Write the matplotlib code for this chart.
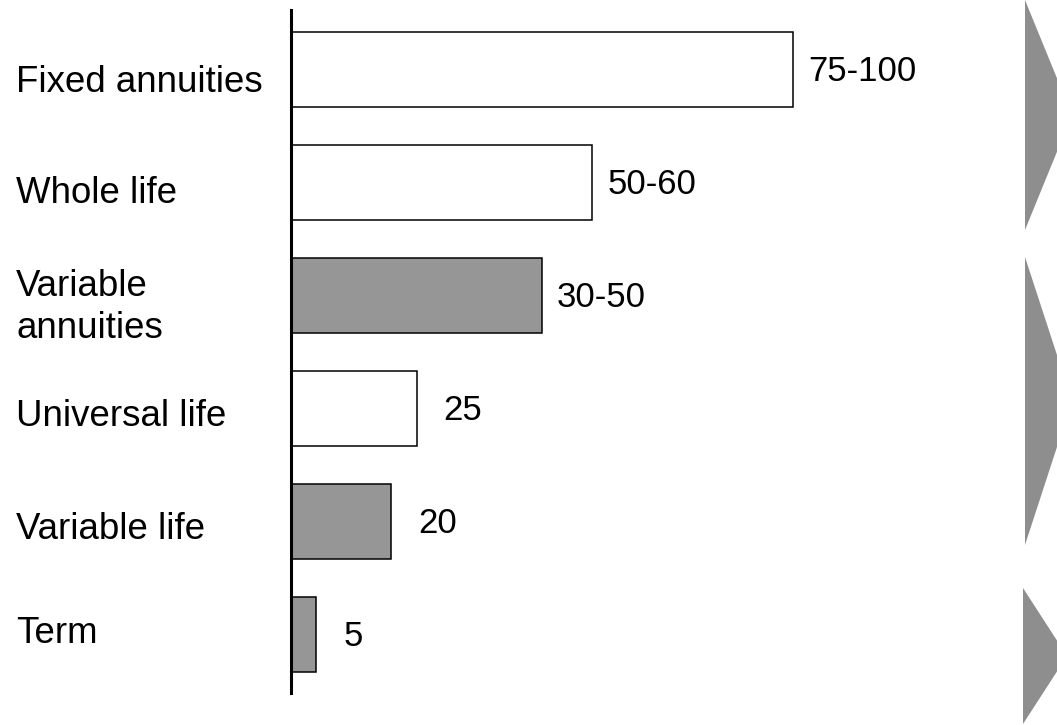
import matplotlib
matplotlib.use("Agg")
from matplotlib import pyplot as plt
from matplotlib.patches import Polygon

plt.rcParams['font.family'] = ['Liberation Sans', 'DejaVu Sans']

products = ["Fixed annuities", "Whole life", "Variable\nannuities",
            "Universal life", "Variable life", "Term"]
values = [100, 60, 50, 25, 20, 5]
value_labels = ["75-100", "50-60", "30-50", "25", "20", "5"]
shaded = [False, False, True, False, True, True]

W, H = 1057, 725
fig = plt.figure(figsize=(W / 100, H / 100), dpi=100)
ax = fig.add_axes([291 / W, 32 / H, 753 / W, 683 / H])

pos = list(range(len(products)))
colors = ["#969696" if s else "white" for s in shaded]
ax.barh(pos, values, height=0.665, color=colors, edgecolor="black", linewidth=1.1)

ax.set_xlim(0, 150)
ax.set_ylim(5.518, -0.527)
for s in ["top", "right", "bottom"]:
    ax.spines[s].set_visible(False)
ax.spines["left"].set_linewidth(2.2)
ax.set_xticks([])
ax.set_yticks([])

# value labels to the right of bars
for p, v, lab in zip(pos, values, value_labels):
    off = 15 if "-" in lab else 27
    ax.annotate(lab, (v, p), xytext=(off, -2), textcoords="offset pixels",
                ha="left", va="center", fontsize=25)

# category labels on the left (last-line baseline offset from bar centre, pixels)
base_off = [22.5, 20, 42, 17.5, 18, 8.5]
for p, name, dy in zip(pos, products, base_off):
    ax.annotate(name, (0, p), xycoords=("figure fraction", "data"),
                xytext=(16, -dy), textcoords="offset pixels",
                ha="left", va="baseline", fontsize=26.4, linespacing=1.25)

# grey chevrons on the right edge (clipped by the canvas)
chevrons = [(1025, 0, 230, 1072), (1025, 257, 545, 1072), (1023, 588, 724, 1067)]
for x0, y0, y1, xt in chevrons:
    pts = [(x0 / W, 1 - y0 / H), (xt / W, 1 - (y0 + y1) / 2 / H), (x0 / W, 1 - y1 / H)]
    fig.patches.append(Polygon(pts, closed=True, transform=fig.transFigure,
                               facecolor="#8e8e8e", edgecolor="none"))

plt.savefig("out.png", dpi=100)
